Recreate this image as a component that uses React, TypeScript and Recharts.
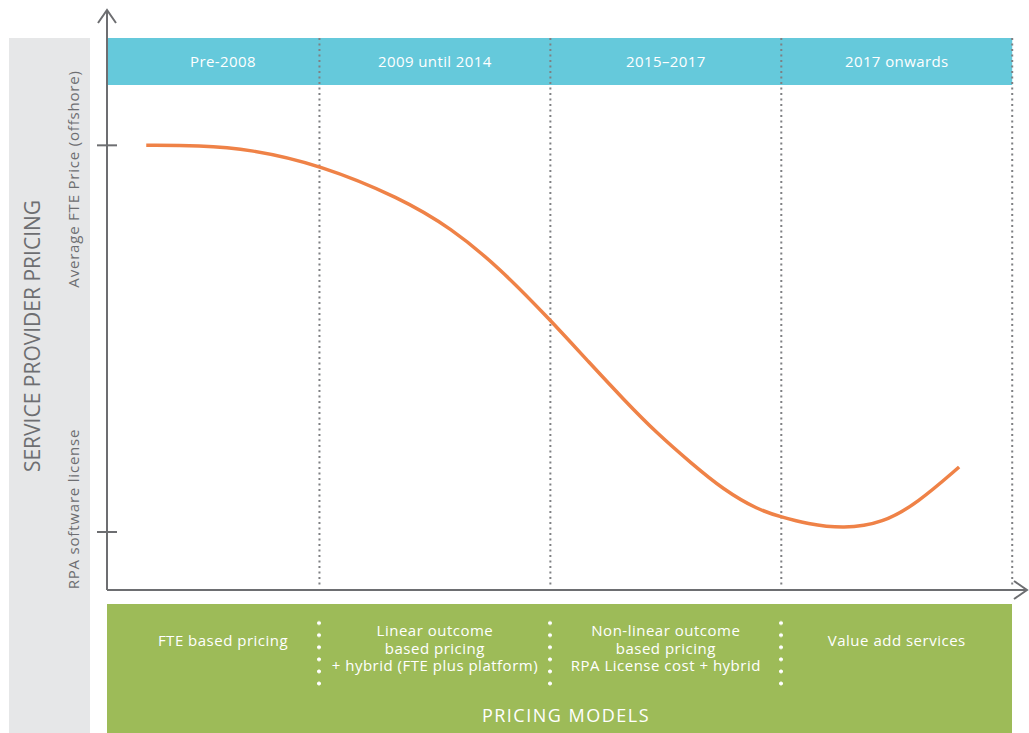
import React from "react";
import {
  LineChart,
  Line,
  XAxis,
  YAxis,
  ReferenceArea,
  ReferenceLine,
  ReferenceDot,
} from "recharts";

// periods along the time axis (boundaries in period units)
const periodLabels = ["Pre-2008", "2009 until 2014", "2015–2017", "2017 onwards"];
const periodEnds = [1, 2, 3, 4];

// pricing curve (x in period units, y: 1 = FTE price, 0 = RPA licence)
const curveX = [
  0.25, 0.48, 0.7, 1.0, 1.35, 1.57, 1.78, 2.0, 2.17, 2.32, 2.46, 2.61, 2.75, 2.9, 3.0,
  3.11, 3.27, 3.44, 3.59, 3.77,
];
const curveY = [
  1.0, 1.0, 0.99, 0.95, 0.864, 0.786, 0.683, 0.548, 0.437, 0.341, 0.256, 0.178, 0.109,
  0.057, 0.039, 0.021, 0.008, 0.023, 0.075, 0.168,
];

const yTicks = [0, 1];
const yTickLabels = ["RPA software license", "Average FTE Price (offshore)"];

const pricingModels = [
  ["FTE based pricing"],
  ["Linear outcome", "based pricing", "+ hybrid (FTE plus platform)"],
  ["Non-linear outcome", "based pricing", "RPA License cost + hybrid"],
  ["Value add services"],
];

const data = curveX.map((x, i) => ({ x, y: curveY[i] }));

const X_MIN = 0.08;
const X_MAX = 4.064;
const Y_MIN = -0.15;
const Y_MAX = 1.35;
const LABEL_START = 0.165;

const AXIS = "#6d6e71";
const CYAN = "#65c9db";
const GREEN = "#9dbb58";
const ORANGE = "#ef8247";
const FONT = "'Open Sans', sans-serif";

// px helpers for the html parts outside the plot
const PLOT_LEFT = 107;
const PX_PER_UNIT = (1027 - PLOT_LEFT) / (X_MAX - X_MIN);
const xPx = (v: number) => PLOT_LEFT + (v - X_MIN) * PX_PER_UNIT;

const rotated = (cx: number, cy: number): React.CSSProperties => ({
  position: "absolute",
  left: cx,
  top: cy,
  transform: "translate(-50%, -50%) rotate(-90deg)",
  whiteSpace: "nowrap",
  color: AXIS,
});

const App: React.FC = () => {
  const colCenters = periodEnds.map(
    (end, i) => (xPx(i === 0 ? LABEL_START : periodEnds[i - 1]) + xPx(end)) / 2
  );

  return (
    <div
      style={{
        position: "absolute",
        left: 0,
        top: 0,
        width: 1029,
        height: 733,
        fontFamily: FONT,
        overflow: "hidden",
        background: "#fff",
      }}
    >
      {/* grey side band */}
      <div
        style={{
          position: "absolute",
          left: 9,
          top: 38,
          width: 81,
          height: 695,
          background: "#e6e7e8",
        }}
      />
      <div style={{ ...rotated(32, 336), fontSize: 21 }}>SERVICE PROVIDER PRICING</div>
      <div style={{ ...rotated(73, 179), fontSize: 15, letterSpacing: 0.8 }}>
        {yTickLabels[1]}
      </div>
      <div style={{ ...rotated(73, 509), fontSize: 15, letterSpacing: 0.8 }}>
        {yTickLabels[0]}
      </div>

      {/* green pricing models box */}
      <div
        style={{
          position: "absolute",
          left: PLOT_LEFT,
          top: 604,
          width: xPx(4) - PLOT_LEFT,
          height: 129,
          background: GREEN,
        }}
      />
      {periodEnds.slice(0, 3).map((end) => (
        <div
          key={end}
          style={{
            position: "absolute",
            left: xPx(end) - 2,
            top: 616.6,
            width: 4,
            height: 72.6,
            backgroundImage:
              "radial-gradient(circle, #ffffff 1.6px, rgba(255,255,255,0) 2.2px)",
            backgroundSize: "4px 12.1px",
          }}
        />
      ))}
      {pricingModels.map((lines, i) => (
        <div
          key={i}
          style={{
            position: "absolute",
            left: colCenters[i] - 120,
            width: 240,
            top: lines.length === 1 ? 632 : 622,
            textAlign: "center",
            color: "#fff",
            fontSize: 15,
            letterSpacing: 0.5,
            lineHeight: "17.5px",
            whiteSpace: "nowrap",
          }}
        >
          {lines.map((l) => (
            <div key={l}>{l}</div>
          ))}
        </div>
      ))}
      <div
        style={{
          position: "absolute",
          left: 566 - 150,
          width: 300,
          top: 703,
          textAlign: "center",
          color: "#fff",
          fontSize: 18,
          letterSpacing: 1.5,
          lineHeight: "24px",
        }}
      >
        PRICING MODELS
      </div>

      {/* the chart */}
      <div style={{ position: "absolute", left: 0, top: 0 }}>
        <LineChart
          width={1029}
          height={733}
          data={data}
          margin={{ top: 10, right: 2, bottom: 142, left: 67 }}
        >
          <XAxis
            dataKey="x"
            type="number"
            domain={[X_MIN, X_MAX]}
            allowDataOverflow
            tick={false}
            tickLine={false}
            height={1}
            axisLine={{ stroke: AXIS, strokeWidth: 2 }}
          />
          <YAxis
            type="number"
            domain={[Y_MIN, Y_MAX]}
            allowDataOverflow
            ticks={yTicks}
            width={40}
            tickLine={false}
            tickSize={0}
            tickMargin={0}
            axisLine={{ stroke: AXIS, strokeWidth: 2 }}
            tick={(props: any) => (
              <line
                x1={props.x - 10}
                x2={props.x + 10}
                y1={props.y}
                y2={props.y}
                stroke={AXIS}
                strokeWidth={2}
              />
            )}
          />
          <ReferenceArea
            x1={X_MIN}
            x2={4}
            y1={1.156}
            y2={1.2775}
            fill={CYAN}
            fillOpacity={1}
            stroke="none"
          />
          {periodLabels.map((label, i) => (
            <ReferenceArea
              key={label}
              x1={i === 0 ? LABEL_START : periodEnds[i - 1]}
              x2={periodEnds[i]}
              y1={1.156}
              y2={1.2775}
              fill="none"
              stroke="none"
              label={{
                value: label,
                position: "center",
                fill: "#ffffff",
                fontSize: 15,
                fontFamily: FONT,
                letterSpacing: 0.4,
              }}
            />
          ))}
          {periodEnds.map((end) => (
            <ReferenceLine
              key={end}
              segment={[
                { x: end, y: 1.2775 },
                { x: end, y: -0.137 },
              ]}
              stroke="#7f8083"
              strokeWidth={2}
              strokeDasharray="2 3.5"
            />
          ))}
          <Line
            type="basis"
            dataKey="y"
            stroke={ORANGE}
            strokeWidth={3.5}
            dot={false}
            isAnimationActive={false}
          />
          <ReferenceDot
            x={X_MIN}
            y={Y_MAX}
            shape={(p: any) => (
              <polyline
                points={`${p.cx - 9},${p.cy + 13} ${p.cx},${p.cy} ${p.cx + 9},${p.cy + 13}`}
                fill="none"
                stroke={AXIS}
                strokeWidth={2}
              />
            )}
          />
          <ReferenceDot
            x={X_MAX}
            y={Y_MIN}
            shape={(p: any) => (
              <polyline
                points={`${p.cx - 13},${p.cy - 9} ${p.cx},${p.cy} ${p.cx - 13},${p.cy + 9}`}
                fill="none"
                stroke={AXIS}
                strokeWidth={2}
              />
            )}
          />
        </LineChart>
      </div>
    </div>
  );
};

export default App;
